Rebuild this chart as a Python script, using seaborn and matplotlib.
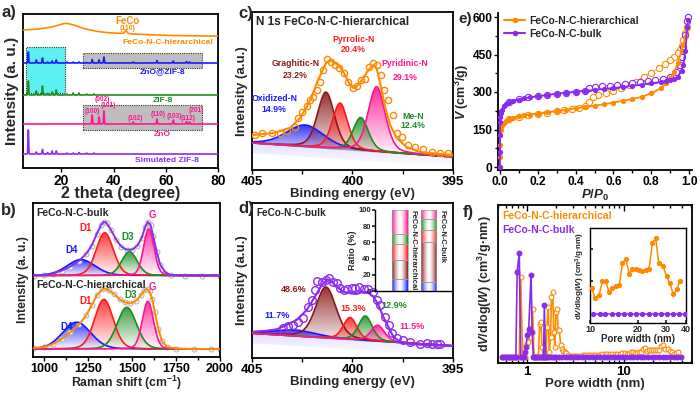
import numpy as np
import matplotlib
matplotlib.use("Agg")
import matplotlib.pyplot as plt
import seaborn as sns
from matplotlib.colors import to_rgb
from matplotlib.patches import Rectangle
from matplotlib.path import Path
from matplotlib.lines import Line2D
import matplotlib.ticker as mt

# ------------------------------------------------------------------ data
# (a) XRD : peak positions (2theta) and heights
zif_pos = [7.3, 10.35, 12.7, 14.7, 16.4, 18.0, 22.1, 24.5, 26.7, 29.6, 32.4]
sim_zif_h = [24, 2, 4.5, 1.5, 3, 3, 1, 1, 1.5, 1, 1]
zif8_h = [14, 4, 9, 1.5, 3, 5, 1, 2, 2, 1, 1]
zz_zif_h = [11, 3, 5, 1, 2, 3, 1, 1, 1, 0.5, 0.5]
zno_pos = [31.77, 34.42, 36.25, 47.54, 56.60, 62.86, 67.96, 69.10]
zno_h = [9, 7, 13, 2, 5, 4, 2.5, 2]
zz_zno_h = [3.5, 3, 6, 1, 2.5, 2, 1.5, 1]
zno_hkl = ['(100)', '(002)', '(101)', '(102)', '(110)', '(103)', '(112)', '(201)']
feco_tt = [5.3, 8, 11, 14, 17, 19, 21, 22.5, 24, 26, 28, 31, 34, 37, 40, 42, 43.8,
           44.7, 45.6, 48, 52, 56, 60, 65, 70, 75, 80]
feco_I = [138, 138.5, 139, 140, 141.5, 143, 144.5, 144.5, 143.5, 142, 140, 138, 136.5,
          135.5, 135, 134.8, 134.7, 137.5, 134.5, 134, 133.5, 133, 132.7, 132.4, 132.2, 132, 132]

# (b) Raman : components (center, height, FWHM) and envelopes
raman_comp = ['D4', 'D1', 'D3', 'G']
bulk_c = [1210, 1345, 1485, 1595]
bulk_h = [16, 43, 24, 47]
bulk_w = [190, 115, 105, 70]
hier_c = [1185, 1340, 1470, 1590]
hier_h = [27, 50, 42, 48]
hier_w = [190, 125, 130, 75]
bulk_env_x = [940, 1000, 1050, 1100, 1150, 1200, 1240, 1270, 1300, 1325, 1340, 1355, 1380, 1410,
              1440, 1470, 1500, 1530, 1555, 1575, 1590, 1605, 1620, 1640, 1660, 1690, 1720, 1800,
              1900, 2000]
bulk_env_y = [82, 82.5, 84, 87, 91, 97, 104, 112, 124, 133, 136, 135, 128, 118, 111, 108, 108,
              112, 120, 131, 136, 133, 122, 106, 93, 85, 82.5, 82, 82, 82]
hier_env_x = [940, 1000, 1050, 1100, 1150, 1200, 1240, 1270, 1300, 1330, 1345, 1370, 1400, 1430,
              1460, 1490, 1520, 1550, 1570, 1585, 1600, 1615, 1630, 1650, 1670, 1700, 1750, 1850,
              1950, 2000]
hier_env_y = [9, 10, 13, 18, 25, 33, 42, 52, 62, 68, 69, 67, 63, 58, 55, 54, 56, 62, 67, 68.5, 66,
              58, 45, 28, 16, 10, 8.5, 8, 8, 8]

# (c) N1s hierarchical
n_species = ['Oxidized-N', 'Graghitic-N', 'Pyrrolic-N', 'Me-N', 'Pyridinic-N']
c_cen = [402.36, 401.32, 400.62, 399.59, 398.80]
c_h = [21.7, 56, 46, 33, 65]
c_w = [2.2, 1.0, 0.9, 0.9, 1.0]
c_env_be = [404.93, 403.94, 403.11, 402.61, 402.28, 402.03, 401.78, 401.53, 401.32, 401.12,
            400.87, 400.62, 400.37, 400.12, 399.96, 399.71, 399.46, 399.21, 398.96, 398.80,
            398.63, 398.38, 398.13, 397.80, 397.31, 396.64, 395.65, 394.98]
c_env_y = [35, 37, 42, 52, 63, 73, 87, 98, 107, 110, 107, 103, 95, 85, 82, 85, 92, 100, 105,
           102, 87, 63, 45, 32, 23, 18, 16, 15]
c_pts_be = [404.85, 404.52, 404.02, 403.61, 403.28, 402.86, 402.69, 402.53, 402.28, 402.11,
            401.95, 401.78, 401.62, 401.45, 401.25, 401.09, 400.87, 400.66, 400.42, 400.21,
            399.99, 399.79, 399.59, 399.38, 399.16, 398.96, 398.76, 398.60, 398.43, 398.22,
            398.00, 397.80, 397.55, 397.22, 396.89, 396.48, 396.06, 395.65, 395.23]
c_pts_y = [35, 37, 37, 37, 39, 43, 52, 58, 64, 70, 73, 80, 88, 100, 111, 108, 105, 102, 97, 88,
           82, 84, 90, 91, 103, 107, 105, 95, 80, 70, 55, 37, 33, 25, 23, 21, 18, 17, 17]
c_pct = ['14.9%', '23.2%', '20.4%', '12.4%', '29.1%']

# (d) N1s bulk
d_cen = [402.86, 401.32, 400.12, 399.36, 398.75]
d_h = [6, 51, 22, 24.5, 16]
d_w = [2.5, 1.2, 0.8, 0.8, 0.8]
d_env_be = [404.93, 404.27, 403.77, 403.28, 402.78, 402.28, 401.87, 401.53, 401.25, 401.04,
            400.79, 400.46, 400.12, 399.79, 399.46, 399.21, 398.96, 398.71, 398.47, 398.22,
            397.97, 397.64, 397.14, 396.31, 394.98]
d_env_y = [26.3, 27.3, 28.7, 33, 38, 48, 61.3, 73, 78.7, 76.3, 71.3, 66.3, 64.7, 64, 66.3, 65.3,
           61.3, 53, 41.3, 31.3, 21.3, 16.3, 14, 13, 12.3]
d_pts_be = [403.44, 403.19, 402.94, 402.69, 402.45, 402.20, 402.03, 401.87, 401.75, 401.53,
            401.32, 401.15, 400.95, 400.79, 400.62, 400.42, 400.26, 400.04, 399.88, 399.66,
            399.43, 399.25, 399.00, 398.80, 398.63, 398.38, 398.17, 398.05, 397.80, 397.47,
            397.14, 396.64, 396.31, 396.06, 395.81, 395.65]
d_pts_y = [29.7, 32, 33, 36.3, 39.7, 51.3, 58, 68, 77.3, 76.3, 78, 79.7, 76.3, 75.3, 69.7, 68,
           68.7, 69.7, 69.7, 71.3, 69, 69, 66.3, 58, 53, 41.3, 33, 24.7, 19.7, 18, 16.3, 14, 14.7,
           14, 14, 14]
d_pct = ['11.7%', '48.6%', '15.3%', '12.9%', '11.5%']

# ratio inset (bottom -> top: oxidized, graphitic, pyrrolic, Me-N, pyridinic)
ratio_hier = [14.9, 23.2, 20.4, 12.4, 29.1]
ratio_bulk = [11.7, 48.6, 15.3, 12.9, 11.5]

# (e) N2 isotherms
ph_ads = [0.0, 0.0005, 0.001, 0.002, 0.004, 0.007, 0.01, 0.02, 0.03, 0.05, 0.07, 0.1, 0.13,
          0.16, 0.2, 0.25, 0.3, 0.35, 0.4, 0.45, 0.5, 0.55, 0.6, 0.65, 0.7, 0.75, 0.8, 0.85,
          0.88, 0.9, 0.92, 0.94, 0.96, 0.97, 0.98, 0.99]
vh_ads = [0, 40, 90, 130, 150, 162, 168, 178, 184, 192, 197, 203, 207, 210, 214, 219, 224, 229,
          235, 240, 245, 251, 258, 265, 272, 281, 295, 315, 335, 355, 380, 415, 465, 490, 520, 555]
ph_des = [0.99, 0.98, 0.97, 0.96, 0.95, 0.94, 0.92, 0.9, 0.87, 0.84, 0.8, 0.76, 0.72, 0.68, 0.64,
          0.6, 0.56, 0.52, 0.49, 0.47, 0.45, 0.42, 0.38, 0.34, 0.3, 0.25, 0.2, 0.15, 0.1, 0.05]
vh_des = [560, 535, 510, 485, 468, 455, 440, 428, 412, 395, 377, 362, 342, 328, 316, 305, 296,
          288, 281, 260, 243, 237, 232, 227, 223, 218, 213, 207, 201, 191]
pb_ads = [0.0, 0.0005, 0.001, 0.002, 0.003, 0.005, 0.008, 0.01, 0.02, 0.03, 0.05, 0.07, 0.1, 0.13,
          0.16, 0.2, 0.25, 0.3, 0.35, 0.4, 0.45, 0.5, 0.55, 0.6, 0.65, 0.7, 0.75, 0.8, 0.85, 0.88,
          0.9, 0.92, 0.94, 0.96, 0.97, 0.98, 0.99, 0.995]
vb_ads = [0, 60, 130, 180, 200, 215, 225, 230, 243, 251, 260, 265, 270, 275, 279, 283, 288, 293,
          297, 301, 305, 308, 312, 316, 320, 325, 330, 335, 340, 345, 348, 353, 362, 385, 410, 465,
          560, 590]
pb_des = [0.995, 0.99, 0.98, 0.97, 0.96, 0.95, 0.93, 0.9, 0.86, 0.82, 0.78, 0.74, 0.7, 0.66, 0.62,
          0.58, 0.54, 0.5, 0.47, 0.45, 0.4, 0.35, 0.3, 0.25, 0.2, 0.15, 0.1, 0.05]
vb_des = [600, 585, 530, 480, 440, 410, 380, 362, 352, 347, 343, 340, 336, 332, 329, 326, 323,
          320, 316, 306, 302, 297, 293, 288, 284, 279, 271, 261]

# (f) pore size distribution
w_bulk = [0.55, 0.58, 0.61, 0.64, 0.67, 0.70, 0.73, 0.765, 0.79, 0.83, 0.86, 0.89, 0.92, 0.95,
          0.98, 1.00, 1.04, 1.10, 1.13, 1.16, 1.20, 1.25, 1.30, 1.35, 1.40, 1.45, 1.48, 1.51, 1.55,
          1.60, 1.70, 1.80, 1.90, 2.0, 2.15, 2.3, 2.5, 2.7, 2.9, 3.1, 3.4, 3.7, 4.0, 4.4, 4.8, 5.2,
          5.7, 6.2, 6.8, 7.4, 8.1, 8.8, 9.6, 10.5, 11.5, 12.5, 13.7, 15.0, 16.4, 17.9, 19.5, 21.3,
          23.3, 25.4, 27.7, 30.3, 33.0, 36.0, 39.3]
d_bulk = [0, 0, 0, 0, 0, 0, 0, 0, 0.85, 1.04, 0, 0, 0, 0.05, 0.1, 0.22, 0.28, 0.82, 0.25, 0, 0, 0,
          0, 0, 0, 0, 0, 0.52, 0, 0, 0, 0, 0, 0, 0, 0, 0, 0, 0, 0, 0, 0, 0, 0, 0, 0, 0, 0, 0, 0, 0,
          0, 0, 0, 0, 0, 0, 0, 0, 0, 0, 0, 0, 0, 0, 0, 0, 0, 0]
w_hier = [0.55, 0.60, 0.65, 0.70, 0.75, 0.79, 0.83, 0.86, 0.9, 0.95, 0.98, 1.02, 1.06, 1.10, 1.14,
          1.18, 1.22, 1.27, 1.31, 1.35, 1.39, 1.43, 1.47, 1.52, 1.57, 1.61, 1.65, 1.70, 1.75, 1.79,
          1.84, 1.89, 1.94, 1.99, 2.04, 2.10, 2.16, 2.22, 2.30, 2.38, 2.46, 2.55, 2.65, 2.75, 2.9,
          3.05, 3.2, 3.4, 3.6, 3.8, 4.0, 4.25, 4.5, 4.8, 5.1, 5.4, 5.7, 6.0, 6.4, 6.8, 7.2, 7.6,
          8.1, 8.6, 9.1, 9.7, 10.25, 10.75, 11.4, 11.95, 12.55, 13.15, 13.8, 14.5, 15.3, 15.95,
          16.75, 17.6, 18.45, 19.35, 20.3, 21.3, 22.35, 23.45, 24.6, 25.8, 27.0, 28.8, 30.2, 31.7,
          33.3, 35.0, 36.7]
d_hier = [0, 0, 0, 0, 0, 0, 0, 0.8, 0, 0, 0.12, 0.15, 0.28, 0.2, 0.48, 0, 0, 0, 0, 0.33, 0.35,
          0.1, 0, 0, 0, 0.3, 0.5, 0.05, 0.2, 0.6, 0.65, 0.25, 0.1, 0.45, 0.48, 0.27, 0.27, 0.12,
          0.08, 0.06, 0.05, 0.04, 0.02, 0.01, 0.005, 0.005, 0.008, 0.01, 0.012, 0.013, 0.015,
          0.016, 0.018, 0.02, 0.02, 0.022, 0.022, 0.024, 0.024, 0.026, 0.027, 0.028, 0.03, 0.031,
          0.032, 0.035, 0.040, 0.024, 0.029, 0.050, 0.050, 0.034, 0.040, 0.043, 0.045, 0.078,
          0.084, 0.062, 0.069, 0.069, 0.068, 0.066, 0.068, 0.069, 0.109, 0.116, 0.078, 0.073,
          0.058, 0.047, 0.030, 0.038, 0.051]

# ------------------------------------------------------------------ style
ORANGE = '#FF8A00'
PURPLE = '#8C2BEF'
BLUE = '#1A1AFF'
GREEN = '#1E8C1E'
RED = '#FF1A1A'
PINK = '#FF1493'
BROWN = '#8B1A1A'
N_COLORS = [BLUE, BROWN, RED, GREEN, PINK]
R_COLORS = [BLUE, RED, GREEN, PINK]

sns.set_theme(style='ticks')
plt.rcParams['font.family'] = ['Liberation Sans', 'DejaVu Sans']
plt.rcParams['font.weight'] = 'bold'
plt.rcParams['axes.labelweight'] = 'bold'
plt.rcParams['mathtext.fontset'] = 'custom'
plt.rcParams['mathtext.rm'] = 'Liberation Sans:bold'
plt.rcParams['mathtext.it'] = 'Liberation Sans:italic:bold'
plt.rcParams['mathtext.bf'] = 'Liberation Sans:bold'
plt.rcParams['axes.linewidth'] = 1.3
plt.rcParams['axes.edgecolor'] = 'black'

W, H = 700, 393
fig = plt.figure(figsize=(7, 3.93), dpi=100)


def box(x0, y0, x1, y1):
    return [x0 / W, 1 - y1 / H, (x1 - x0) / W, (y1 - y0) / H]


def style_ax(ax, direction='out', size=9.5, pad=2):
    ax.tick_params(axis='both', which='both', direction=direction, labelsize=size, width=1,
                   colors='black', pad=pad)
    ax.tick_params(which='major', length=3)
    ax.tick_params(which='minor', length=2)
    for lab in ax.get_xticklabels() + ax.get_yticklabels():
        lab.set_fontweight('bold')


def pv(x, c, h, w, eta=0.3):
    x = np.asarray(x)
    g = np.exp(-4 * np.log(2) * ((x - c) / w) ** 2)
    l = 1 / (1 + 4 * ((x - c) / w) ** 2)
    return h * ((1 - eta) * g + eta * l)


def grad_fill(ax, x, ytop, ybase, color, zorder=2, a_top=0.9, a_bot=0.02):
    x = np.asarray(x); ytop = np.asarray(ytop); ybase = np.asarray(ybase)
    verts = np.concatenate([np.column_stack([x, ytop]), np.column_stack([x[::-1], ybase[::-1]])])
    path = Path(verts)
    n = 200
    img = np.zeros((n, 1, 4))
    img[:, 0, :3] = to_rgb(color)
    img[:, 0, 3] = np.linspace(a_bot, a_top, n)
    im = ax.imshow(img, extent=[x.min(), x.max(), ybase.min(), ytop.max()], origin='lower',
                   aspect='auto', zorder=zorder, interpolation='bilinear')
    im.set_clip_path(path, transform=ax.transData)


def line(ax, x, y, color, lw=1.3, z=3, **kw):
    sns.lineplot(x=np.asarray(x), y=np.asarray(y), ax=ax, color=color, lw=lw, sort=False,
                 estimator=None, zorder=z, **kw)


# ------------------------------------------------------------------ (a)
axa = fig.add_axes(box(23, 14, 218, 168))
tt = np.linspace(5, 80, 6000)


def pattern(pos, hs, base, wd=0.13):
    y = np.full_like(tt, base, dtype=float)
    for p, h in zip(pos, hs):
        y += h * np.exp(-0.5 * ((tt - p) / wd) ** 2)
    return y


axa.add_patch(Rectangle((6.4, 75), 15.1, 46, facecolor='#5CF0F0', edgecolor='#333333', lw=0.8,
                        ls=(0, (1, 1)), zorder=1))
axa.add_patch(Rectangle((28.3, 100), 45.5, 15, facecolor='#BEBEBE', edgecolor='#333333', lw=0.8,
                        ls=(0, (1, 1)), zorder=1))
axa.add_patch(Rectangle((28.3, 38), 45.5, 25, facecolor='#BEBEBE', edgecolor='#333333', lw=0.8,
                        ls=(0, (1, 1)), zorder=1))
line(axa, tt, pattern(zif_pos, sim_zif_h, 14), PURPLE, lw=1.2)
line(axa, tt, pattern(zno_pos, zno_h, 44), PINK, lw=1.2)
line(axa, tt, pattern(zif_pos, zif8_h, 73), GREEN, lw=1.2)
line(axa, tt, pattern(zif_pos + zno_pos, zz_zif_h + zz_zno_h, 105), BLUE, lw=1.2)
line(axa, feco_tt, feco_I, ORANGE, lw=1.2)
axa.set_xlim(5.25, 80)
axa.set_ylim(0, 154)
axa.set_yticks([])
axa.set_xticks([20, 40, 60, 80])
axa.set_xlabel('2 theta (degree)', fontsize=11.5, labelpad=-1)
axa.set_ylabel('Intensity (a. u.)', fontsize=11, labelpad=3)
style_ax(axa, size=10, pad=1)
axa.text(45.5, 147, 'FeCo', color=ORANGE, fontsize=7, ha='center', va='center')
axa.text(45.5, 140, '(110)', color=ORANGE, fontsize=5, ha='center', va='center')
axa.text(78, 125, 'FeCo-N-C-hierarchical', color=ORANGE, fontsize=6.1, ha='right', va='center')
axa.text(58.9, 96, 'ZnO@ZIF-8', color=BLUE, fontsize=6.1, ha='center', va='center')
axa.text(58.9, 68, 'ZIF-8', color=GREEN, fontsize=6.1, ha='center', va='center')
axa.text(58.5, 33, 'ZnO', color=PINK, fontsize=6.1, ha='center', va='center')
axa.text(60.4, 8, 'Simulated ZIF-8', color=PURPLE, fontsize=6.1, ha='center', va='center')
hkl_xy = [(31.9, 56.3), (35.5, 68.5), (38.0, 62.3), (48.2, 50), (57, 53), (63.3, 52), (68.4, 49),
          (71.5, 58)]
for lab, (hx, hy) in zip(zno_hkl, hkl_xy):
    axa.text(hx, hy, lab, color=PINK, fontsize=4.7, ha='center', va='center')

# ------------------------------------------------------------------ (b)
axb = fig.add_axes(box(33, 203, 220, 357))
rs = np.linspace(940, 2000, 1200)
for cens, hs, ws, base in [(bulk_c, bulk_h, bulk_w, 82), (hier_c, hier_h, hier_w, 8)]:
    for cc, hh, ww, col in zip(cens, hs, ws, R_COLORS):
        comp = base + pv(rs, cc, hh, ww, eta=0.15)
        grad_fill(axb, rs, comp, np.full_like(rs, base), col, zorder=2, a_top=0.85)
        line(axb, rs, comp, col, lw=1.2, z=3)
axb.plot(bulk_env_x, bulk_env_y, 'o', ms=3.5, mfc='white', mec='#B5B5B5', mew=0.8, zorder=2.5)
axb.plot(hier_env_x, hier_env_y, 'o', ms=3.5, mfc='white', mec='#B5B5B5', mew=0.8, zorder=2.5)
line(axb, bulk_env_x, bulk_env_y, PURPLE, lw=1.4, z=4)
line(axb, hier_env_x, hier_env_y, ORANGE, lw=1.4, z=4)
axb.set_xlim(937, 2000)
axb.set_ylim(0, 155)
axb.set_yticks([])
axb.set_xticks([1000, 1250, 1500, 1750, 2000])
axb.xaxis.set_minor_locator(mt.MultipleLocator(125))
axb.set_xlabel('Raman shift (cm$^{-1}$)', fontsize=8.8, labelpad=-0.5)
axb.set_ylabel('Intensity (a. u.)', fontsize=8.8, labelpad=3)
style_ax(axb, size=9, pad=1)
axb.text(0.02, 0.965, 'FeCo-N-C-bulk', transform=axb.transAxes, fontsize=7.5, va='top')
axb.text(0.02, 0.5, 'FeCo-N-C-hierarchical', transform=axb.transAxes, fontsize=7.5, va='top')
for lab, col, xy in zip(raman_comp, R_COLORS, [(1157, 108), (1233, 130), (1477, 121), (1614, 143)]):
    axb.text(xy[0], xy[1], lab, color=col, fontsize=7, ha='center', va='center')
for lab, col, xy in zip(raman_comp, R_COLORS, [(1130, 30), (1233, 56), (1490, 62), (1614, 70)]):
    axb.text(xy[0], xy[1], lab, color=col, fontsize=7, ha='center', va='center')

# ------------------------------------------------------------------ (c) & (d)
be = np.linspace(394.9, 405.1, 800)


def xps(ax, cens, hs, ws, bl_left, bl_right, env_x, env_y, pts_x, pts_y, env_col, pts_ms):
    base = bl_right + (be - 395) * (bl_left - bl_right) / 10
    grad_fill(ax, be, base, base - 10, '#8080FF', zorder=1, a_top=0.25, a_bot=0.0)
    for cc, hh, ww, col in zip(cens, hs, ws, N_COLORS):
        comp = base + pv(be, cc, hh, ww)
        grad_fill(ax, be, comp, base, col, zorder=2, a_top=0.9)
        line(ax, be, comp, col, lw=1.2, z=3)
    line(ax, be, base, '#A0A0A0', lw=1.2, z=2.5)
    ax.plot(pts_x, pts_y, 'o', ms=pts_ms, mfc='none', mec=env_col, mew=1.0, zorder=4)
    line(ax, env_x, env_y, env_col, lw=1.5, z=5)
    ax.set_xlim(405, 395)
    ax.set_yticks([])
    ax.xaxis.set_major_locator(mt.FixedLocator([405, 400, 395]))
    ax.xaxis.set_minor_locator(mt.FixedLocator([402.5, 397.5]))
    ax.set_xlabel('Binding energy (eV)', fontsize=9.5, labelpad=0)
    ax.set_ylabel('Intensity (a.u.)', fontsize=9.5, labelpad=3)
    style_ax(ax, size=9.5, pad=1.5)
    ax.tick_params(which='minor', length=3)


axc = fig.add_axes(box(252, 12, 453, 170))
xps(axc, c_cen, c_h, c_w, 27, 13, c_env_be, c_env_y, c_pts_be, c_pts_y, ORANGE, 4.5)
axc.set_ylim(0, 158)
axc.text(0.02, 0.975, 'N 1s FeCo-N-C-hierarchical', transform=axc.transAxes, fontsize=8.5,
         va='top')
c_lab_xy = [(403.89, 71.7, 60), (402.83, 106.7, 94), (399.96, 131, 120.7), (396.97, 53.3, 44),
            (397.39, 106.7, 92.7)]
for name, pct, col, (lx, ly1, ly2) in zip(n_species, c_pct, N_COLORS, c_lab_xy):
    axc.text(lx, ly1, name, color=col, fontsize=6.3, ha='center', va='center')
    axc.text(lx, ly2, pct, color=col, fontsize=6.3, ha='center', va='center')

axd = fig.add_axes(box(252, 203, 453, 358))
xps(axd, d_cen, d_h, d_w, 24.7, 12, d_env_be, d_env_y, d_pts_be, d_pts_y, PURPLE, 5.5)
axd.set_ylim(0, 155)
axd.text(0.02, 0.965, 'FeCo-N-C-bulk', transform=axd.transAxes, fontsize=7.2, va='top')
d_lab_xy = [(403.77, 43), (402.94, 68), (399.96, 49.7), (397.92, 53), (397.03, 31.3)]
for pct, col, (lx, ly) in zip(d_pct, N_COLORS, d_lab_xy):
    axd.text(lx, ly, pct, color=col, fontsize=6.5, ha='center', va='center')

# ratio inset
axi = fig.add_axes(box(375, 210, 452, 291))


def grad_bar(ax, xc, bottoms, heights, colors, width=1.0):
    for b, h, col in zip(bottoms, heights, colors):
        n = 64
        t = np.abs(np.linspace(-1, 1, n)) ** 1.6
        rgb = np.array(to_rgb(col))
        img = np.ones((1, n, 3)) * (1 - t[None, :, None]) + rgb[None, None, :] * t[None, :, None]
        ax.imshow(img, extent=[xc - width / 2, xc + width / 2, b, b + h], aspect='auto',
                  origin='lower', zorder=2, interpolation='bilinear')
        ax.add_patch(Rectangle((xc - width / 2, b), width, h, fill=False, ec='#9A9A9A', lw=0.5,
                               zorder=3))


for xc, vals in [(1.63, ratio_hier), (3.47, ratio_bulk)]:
    bots = np.concatenate([[0], np.cumsum(vals)[:-1]])
    grad_bar(axi, xc, bots, vals, N_COLORS)
axi.set_xlim(0, 5)
axi.set_ylim(0, 100)
axi.set_xticks([])
axi.set_yticks([0, 20, 40, 60, 80, 100])
axi.spines['top'].set_visible(False)
axi.spines['right'].set_visible(False)
axi.spines['left'].set_linewidth(1)
axi.spines['bottom'].set_linewidth(1)
axi.patch.set_alpha(0)
axi.tick_params(axis='y', direction='out', length=2, labelsize=5.5, pad=1)
axi.set_ylabel('Ratio (%)', fontsize=6.5, labelpad=1)
axi.text(2.47, 100, 'FeCo-N-C-hierarchical', rotation=270, fontsize=5.5, ha='center', va='top')
axi.text(4.33, 100, 'FeCo-N-C-bulk', rotation=270, fontsize=5.5, ha='center', va='top')

# ------------------------------------------------------------------ (e)
axe = fig.add_axes(box(498, 13, 692, 170))
line(axe, ph_des, vh_des, '#FFB060', lw=0.9, z=2, marker='o', markersize=4.5,
     markerfacecolor='white', markeredgecolor=ORANGE, markeredgewidth=0.8)
line(axe, ph_ads, vh_ads, ORANGE, lw=1.3, z=3, marker='o', markersize=3,
     markerfacecolor=ORANGE, markeredgecolor=ORANGE)
line(axe, pb_des, vb_des, '#B67CF5', lw=0.9, z=2, marker='o', markersize=4.5,
     markerfacecolor='white', markeredgecolor=PURPLE, markeredgewidth=0.8)
line(axe, pb_ads, vb_ads, PURPLE, lw=1.3, z=3, marker='o', markersize=3,
     markerfacecolor=PURPLE, markeredgecolor=PURPLE)
axe.set_xlim(-0.01, 1.015)
axe.set_ylim(-12, 616)
axe.set_xticks([0, 0.2, 0.4, 0.6, 0.8, 1.0])
axe.set_xticklabels(['0.0', '0.2', '0.4', '0.6', '0.8', '1.0'])
axe.xaxis.set_minor_locator(mt.MultipleLocator(0.1))
axe.set_yticks([0, 150, 300, 450, 600])
axe.yaxis.set_minor_locator(mt.MultipleLocator(75))
axe.spines['top'].set_visible(False)
axe.spines['right'].set_visible(False)
axe.set_xlabel('$P/P_0$', fontsize=9.5, labelpad=0)
axe.set_ylabel('$V$ (cm$^3$/g)', fontsize=9, labelpad=1)
style_ax(axe, size=8.6, pad=1)
handles = [Line2D([], [], color=ORANGE, marker='o', ms=3, lw=1.5),
           Line2D([], [], color=PURPLE, marker='o', ms=3, lw=1.5)]
axe.legend(handles, ['FeCo-N-C-hierarchical', 'FeCo-N-C-bulk'], loc='upper left',
           bbox_to_anchor=(0.0, 1.02), frameon=False, handlelength=2.0,
           handletextpad=0.4, borderaxespad=0.2, labelspacing=0.25,
           prop={'weight': 'bold', 'size': 7.5})

# ------------------------------------------------------------------ (f)
axf = fig.add_axes(box(498, 205, 692, 363))
axf.set_xscale('log')
line(axf, w_hier, d_hier, ORANGE, lw=1.2, z=3, marker='o', markersize=3.5,
     markerfacecolor='white', markeredgecolor=ORANGE, markeredgewidth=0.8)
line(axf, w_bulk, d_bulk, PURPLE, lw=1.2, z=4, marker='o', markersize=3.5,
     markerfacecolor=PURPLE, markeredgecolor=PURPLE)
axf.set_xlim(0.5, 51)
axf.set_ylim(-0.063, 1.517)
axf.set_yticks([])
axf.set_xticks([1, 10])
axf.set_xticklabels(['1', '10'])
axf.set_xlabel('Pore width (nm)', fontsize=9.5, labelpad=0)
axf.set_ylabel('d$V$/dlog($W$) (cm$^3$/g·nm)', fontsize=9, labelpad=3)
style_ax(axf, direction='in', size=9.5)
axf.tick_params(top=True, which='both')
axf.tick_params(which='major', length=4)
axf.text(0.02, 0.96, 'FeCo-N-C-hierarchical', transform=axf.transAxes, color=ORANGE,
         fontsize=7.5, va='top')
axf.text(0.02, 0.875, 'FeCo-N-C-bulk', transform=axf.transAxes, color=PURPLE, fontsize=7.5,
         va='top')

axfi = fig.add_axes(box(590, 228, 686, 323))
axfi.set_xscale('log')
wh = np.asarray(w_hier); dh = np.asarray(d_hier)
wb = np.asarray(w_bulk); db = np.asarray(d_bulk)
line(axfi, wh[wh >= 10], dh[wh >= 10], ORANGE, lw=1.1, z=3, marker='o', markersize=3,
     markerfacecolor=ORANGE, markeredgecolor=ORANGE)
line(axfi, wb[wb >= 10], db[wb >= 10], PURPLE, lw=1.1, z=4, marker='o', markersize=3,
     markerfacecolor=PURPLE, markeredgecolor=PURPLE)
axfi.set_xlim(10, 40)
axfi.set_ylim(-0.014, 0.132)
axfi.set_yticks([0.05, 0.1])
axfi.set_yticklabels([])
axfi.xaxis.set_major_locator(mt.FixedLocator([10, 20, 30, 40]))
axfi.xaxis.set_minor_locator(mt.NullLocator())
axfi.set_xticklabels(['10', '20', '30', '40'])
axfi.tick_params(labelsize=6.5, direction='in', length=2, pad=1.5)
for lab in axfi.get_xticklabels():
    lab.set_fontweight('bold')
for s in axfi.spines.values():
    s.set_linewidth(1)
axfi.set_xlabel('Pore width (nm)', fontsize=7, labelpad=0)
axfi.set_ylabel('d$V$/dlog($W$) (cm$^3$/g·nm)', fontsize=5.8, labelpad=1)

# ------------------------------------------------------------------ panel letters
for lab, px, py, fs in [('a)', 1, 5, 12), ('b)', 1, 203, 12), ('c)', 238, 6, 12),
                        ('d)', 238, 201, 12), ('e)', 458, 12, 11), ('f)', 463, 205, 12)]:
    fig.text(px / W, 1 - py / H, lab, fontsize=fs, fontweight='bold', va='top', ha='left')

fig.savefig('out.png', dpi=100)
